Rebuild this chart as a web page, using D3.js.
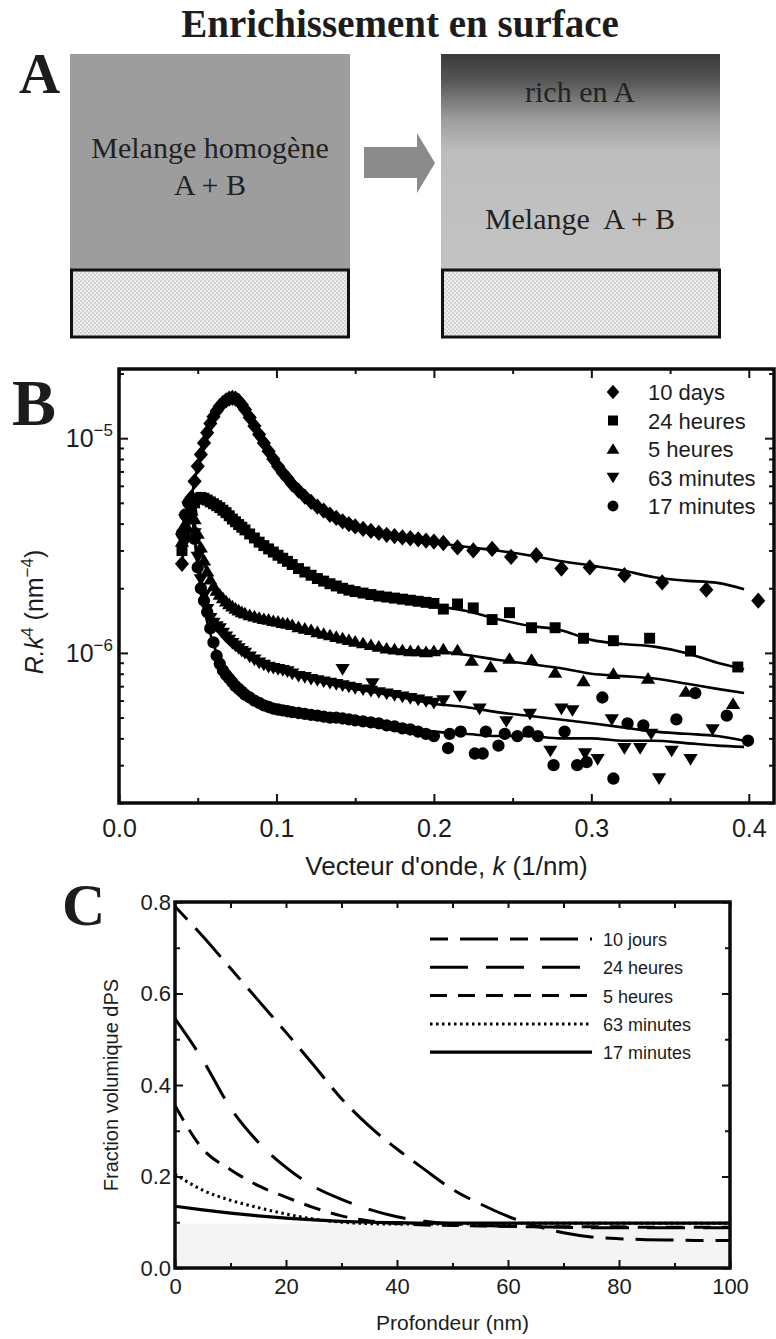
<!DOCTYPE html>
<html>
<head>
<meta charset="utf-8">
<script src="https://cdn.jsdelivr.net/npm/d3@7"></script>
<style>
  body { margin: 0; background: #fff; }
  svg { display: block; }
  text { fill: #1c1c1c; }
</style>
</head>
<body>
<script>
// ---- panel B data (R.k^4 in units of 1e-6 nm^-4) ----
var seriesB = ['10 days', '24 heures', '5 heures', '63 minutes', '17 minutes'];

var kDense = [0.040, 0.042, 0.044, 0.046, 0.048, 0.050, 0.052, 0.054, 0.056, 0.058,
              0.060, 0.062, 0.064, 0.066, 0.068, 0.070, 0.072, 0.074, 0.076, 0.078,
              0.080, 0.083, 0.086, 0.089, 0.092, 0.095, 0.098, 0.101, 0.104, 0.107,
              0.110, 0.114, 0.118, 0.122, 0.126, 0.130, 0.134, 0.138, 0.142, 0.146,
              0.150, 0.155, 0.160, 0.165, 0.170, 0.175, 0.180, 0.185, 0.190, 0.195,
              0.200];

var r10days = [2.6, 3.4, 4.3, 5.3, 6.3, 7.4, 8.4, 9.5, 10.6, 11.7,
               12.6, 13.4, 14.1, 14.6, 15.0, 15.3, 15.4, 15.3, 14.9, 14.3,
               13.6, 12.5, 11.4, 10.4, 9.5, 8.7, 8.0, 7.4, 6.9, 6.5,
               6.1, 5.7, 5.35, 5.05, 4.8, 4.6, 4.4, 4.25, 4.1, 3.98,
               3.88, 3.78, 3.7, 3.62, 3.55, 3.5, 3.45, 3.42, 3.38, 3.33,
               3.3];
var r24h = [3.0, 3.6, 4.2, 4.7, 5.0, 5.2, 5.3, 5.25, 5.15, 5.05,
            4.95, 4.85, 4.75, 4.62, 4.5, 4.35, 4.2, 4.08, 3.96, 3.85,
            3.74, 3.58, 3.43, 3.28, 3.16, 3.05, 2.95, 2.85, 2.76, 2.67,
            2.58, 2.47, 2.38, 2.30, 2.22, 2.16, 2.10, 2.05, 2.0, 1.96,
            1.93, 1.9, 1.87, 1.84, 1.82, 1.8, 1.78, 1.76, 1.74, 1.72,
            1.70];
var r5h = [3.3, 4.0, 4.5, 4.6, 4.2, 3.6, 3.1, 2.7, 2.4, 2.2,
           2.05, 1.95, 1.87, 1.8, 1.74, 1.69, 1.65, 1.61, 1.58, 1.55,
           1.53, 1.5, 1.48, 1.46, 1.44, 1.43, 1.41, 1.40, 1.38, 1.37,
           1.35, 1.32, 1.3, 1.28, 1.25, 1.23, 1.21, 1.19, 1.17, 1.15,
           1.13, 1.11, 1.09, 1.07, 1.05, 1.04, 1.03, 1.02, 1.02, 1.01,
           1.02];
var r63min = [3.4, 4.2, 4.8, 4.6, 3.6, 2.8, 2.2, 1.85, 1.6, 1.45,
              1.38, 1.33, 1.3, 1.24, 1.19, 1.15, 1.11, 1.08, 1.05, 1.02,
              1.0, 0.96, 0.93, 0.9, 0.88, 0.86, 0.85, 0.84, 0.83, 0.82,
              0.8, 0.78, 0.77, 0.755, 0.745, 0.735, 0.725, 0.715, 0.705, 0.695,
              0.685, 0.675, 0.665, 0.655, 0.645, 0.635, 0.625, 0.615, 0.605, 0.595,
              0.585];
var r17min = [3.6, 4.4, 5.0, 4.5, 3.4, 2.5, 2.0, 1.75, 1.55, 1.3,
              1.12, 0.97, 0.89, 0.83, 0.79, 0.76, 0.73, 0.70, 0.68, 0.66,
              0.64, 0.62, 0.6, 0.585, 0.57, 0.56, 0.55, 0.545, 0.54, 0.535,
              0.53, 0.525, 0.52, 0.515, 0.51, 0.505, 0.5, 0.5, 0.495, 0.49,
              0.485, 0.48, 0.475, 0.47, 0.46, 0.455, 0.445, 0.44, 0.43, 0.42,
              0.41];

// sparse points at high k, [k, R]
var s10days = [[0.206, 3.25], [0.215, 3.1], [0.225, 3.0], [0.237, 3.05], [0.249, 2.8], [0.265, 2.85],
               [0.281, 2.47], [0.299, 2.5], [0.321, 2.3], [0.345, 2.13], [0.373, 1.97], [0.406, 1.75]];
var s24h = [[0.206, 1.6], [0.215, 1.69], [0.225, 1.62], [0.237, 1.43], [0.248, 1.54], [0.262, 1.31],
            [0.277, 1.31], [0.295, 1.17], [0.314, 1.14], [0.337, 1.17], [0.363, 1.02], [0.393, 0.86]];
var s5h = [[0.206, 1.04], [0.215, 1.03], [0.224, 0.92], [0.236, 0.86], [0.248, 0.94], [0.262, 0.93],
           [0.277, 0.81], [0.295, 0.74], [0.314, 0.8], [0.336, 0.76], [0.36, 0.66], [0.39, 0.58]];
var s63min = [[0.142, 0.84], [0.161, 0.72], [0.206, 0.6], [0.2165, 0.63], [0.229, 0.55], [0.246, 0.48],
              [0.261, 0.52], [0.274, 0.35], [0.281, 0.55], [0.288, 0.54], [0.296, 0.34], [0.304, 0.32],
              [0.313, 0.49], [0.321, 0.36], [0.331, 0.36], [0.338, 0.42], [0.343, 0.26], [0.351, 0.35],
              [0.363, 0.32], [0.377, 0.44]];
var s17min = [[0.209, 0.36], [0.210, 0.42], [0.217, 0.43], [0.226, 0.34], [0.231, 0.34], [0.233, 0.43],
              [0.241, 0.37], [0.245, 0.42], [0.253, 0.41], [0.260, 0.43], [0.266, 0.41], [0.276, 0.30],
              [0.283, 0.43], [0.291, 0.30], [0.297, 0.31], [0.307, 0.62], [0.314, 0.26], [0.323, 0.47],
              [0.333, 0.46], [0.354, 0.49], [0.366, 0.65], [0.386, 0.51], [0.3995, 0.39]];

// fitted curves
var kFit = [0.040, 0.045, 0.050, 0.055, 0.060, 0.065, 0.070, 0.075, 0.080, 0.090, 0.100, 0.110, 0.120, 0.140,
            0.160, 0.180, 0.200, 0.220, 0.240, 0.260, 0.280, 0.300, 0.320, 0.340, 0.360, 0.380, 0.397];
var f10days = [2.6, 4.8, 7.4, 10.0, 12.6, 14.5, 15.3, 15.2, 13.6, 10.0, 7.6, 6.1, 5.2, 4.2,
               3.72, 3.45, 3.28, 3.12, 3.0, 2.85, 2.68, 2.55, 2.42, 2.25, 2.17, 2.12, 1.98];
var f24h = [3.0, 4.8, 5.2, 5.1, 4.95, 4.7, 4.35, 4.0, 3.74, 3.2, 2.9, 2.56, 2.3, 2.0,
            1.87, 1.78, 1.66, 1.57, 1.44, 1.34, 1.28, 1.15, 1.1, 1.07, 1.0, 0.9, 0.84];
var f5h = [3.3, 4.5, 3.5, 2.5, 2.05, 1.85, 1.7, 1.6, 1.53, 1.45, 1.4, 1.35, 1.28, 1.17,
           1.08, 1.03, 1.02, 0.98, 0.93, 0.89, 0.85, 0.8, 0.78, 0.76, 0.72, 0.68, 0.65];
var f63min = [3.4, 4.6, 2.8, 1.7, 1.35, 1.2, 1.1, 1.03, 0.97, 0.88, 0.83, 0.79, 0.76, 0.70,
              0.66, 0.62, 0.58, 0.56, 0.53, 0.51, 0.49, 0.47, 0.45, 0.43, 0.42, 0.41, 0.39];
var f17min = [3.6, 4.8, 2.5, 1.5, 1.1, 0.88, 0.76, 0.69, 0.64, 0.58, 0.55, 0.53, 0.52, 0.5,
              0.48, 0.45, 0.43, 0.42, 0.41, 0.41, 0.40, 0.40, 0.39, 0.39, 0.38, 0.37, 0.365];

var xTicksB = [0, 0.1, 0.2, 0.3, 0.4];

// ---- panel C data ----
var seriesC = ['10 jours', '24 heures', '5 heures', '63 minutes', '17 minutes'];
var depth = [0, 5, 10, 15, 20, 25, 30, 35, 40, 45, 50, 55, 60, 65, 70, 75, 80, 85, 90, 95, 100];
var c10jours = [0.79, 0.725, 0.655, 0.585, 0.515, 0.443, 0.37, 0.31, 0.26, 0.215, 0.172,
                0.14, 0.113, 0.092, 0.077, 0.068, 0.064, 0.062, 0.061, 0.06, 0.06];
var c24h = [0.545, 0.455, 0.35, 0.275, 0.22, 0.178, 0.15, 0.128, 0.112, 0.102, 0.096,
            0.093, 0.091, 0.09, 0.089, 0.088, 0.088, 0.088, 0.088, 0.088, 0.088];
var c5h = [0.355, 0.26, 0.215, 0.18, 0.155, 0.132, 0.114, 0.103, 0.097, 0.094, 0.093,
           0.092, 0.091, 0.09, 0.09, 0.09, 0.09, 0.089, 0.089, 0.089, 0.089];
var c63min = [0.205, 0.17, 0.148, 0.132, 0.118, 0.107, 0.1, 0.097, 0.096, 0.096, 0.096,
              0.097, 0.097, 0.098, 0.098, 0.098, 0.098, 0.098, 0.098, 0.098, 0.098];
var c17min = [0.135, 0.127, 0.12, 0.114, 0.109, 0.105, 0.102, 0.1, 0.099, 0.098, 0.098,
              0.098, 0.098, 0.098, 0.098, 0.098, 0.098, 0.098, 0.098, 0.098, 0.098];
var bulkLevel = 0.097;

var xTicksC = [0, 20, 40, 60, 80, 100];
var yTicksC = [0.0, 0.2, 0.4, 0.6, 0.8];

var sans = "'Liberation Sans', Arial, sans-serif";
var serif = "'Liberation Serif', 'Times New Roman', serif";

var svg = d3.select("body").append("svg")
    .attr("width", 776)
    .attr("height", 1339);

var defs = svg.append("defs");

// substrate texture
var pat = defs.append("pattern")
    .attr("id", "sub")
    .attr("width", 4).attr("height", 4)
    .attr("patternUnits", "userSpaceOnUse");
pat.append("rect").attr("width", 4).attr("height", 4).attr("fill", "#eeeeee");
pat.append("circle").attr("cx", 1).attr("cy", 1).attr("r", 0.9).attr("fill", "#c4c4c4");
pat.append("circle").attr("cx", 3).attr("cy", 3).attr("r", 0.9).attr("fill", "#c4c4c4");

var grad = defs.append("linearGradient")
    .attr("id", "rich")
    .attr("x1", 0).attr("y1", 0).attr("x2", 0).attr("y2", 1);
[[0, "#3a3a3a"], [0.12, "#555555"], [0.3, "#9c9c9c"], [0.45, "#bdbdbd"], [1, "#c3c3c3"]]
  .forEach(function(s) {
    grad.append("stop").attr("offset", s[0]).attr("stop-color", s[1]);
  });

// ================= PANEL A =================
var gA = svg.append("g");

gA.append("text")
    .attr("x", 400).attr("y", 37)
    .attr("text-anchor", "middle")
    .style("font-family", serif)
    .style("font-weight", "bold")
    .style("font-size", "39px")
    .text("Enrichissement en surface");

gA.append("text")
    .attr("x", 19).attr("y", 93)
    .style("font-family", serif)
    .style("font-weight", "bold")
    .style("font-size", "57px")
    .text("A");

gA.append("rect").attr("x", 70).attr("y", 54).attr("width", 280).attr("height", 216).attr("fill", "#9d9d9d");
gA.append("rect").attr("x", 441).attr("y", 54).attr("width", 279).attr("height", 216).attr("fill", "url(#rich)");

[70, 441].forEach(function(x0) {
  gA.append("rect")
      .attr("x", x0 + 1.5).attr("y", 270)
      .attr("width", 277).attr("height", 67)
      .attr("fill", "url(#sub)")
      .attr("stroke", "#111")
      .attr("stroke-width", 3);
});

gA.append("polygon")
    .attr("points", "364,147 417,147 417,133 435,163 417,193 417,178 364,178")
    .attr("fill", "#8b8b8b");

var boxText = [
  {x: 210, y: 158, t: "Melange homogène"},
  {x: 210, y: 195, t: "A + B"},
  {x: 580, y: 102, t: "rich en A"},
  {x: 580, y: 229, t: "Melange  A + B"}
];
gA.selectAll(".bt")
    .data(boxText)
  .enter().append("text")
    .attr("class", "bt")
    .attr("x", function(d) { return d.x; })
    .attr("y", function(d) { return d.y; })
    .attr("text-anchor", "middle")
    .style("font-family", serif)
    .style("font-size", "30px")
    .style("white-space", "pre")
    .style("fill", "#222")
    .text(function(d) { return d.t; });

// ================= PANEL B =================
var B = {left: 119, right: 774, top: 369, bottom: 803};
var xB = d3.scaleLinear().domain([0, 0.416]).range([B.left, B.right]);
var yB = d3.scaleLog().domain([2e-7, 2.1e-5]).range([B.bottom, B.top]);

var gB = svg.append("g");

svg.append("text")
    .attr("x", 12).attr("y", 425)
    .style("font-family", serif)
    .style("font-weight", "bold")
    .style("font-size", "66px")
    .text("B");

defs.append("clipPath").attr("id", "clipB")
  .append("rect")
    .attr("x", B.left).attr("y", B.top)
    .attr("width", B.right - B.left).attr("height", B.bottom - B.top);

// symbol shapes
var symDiamond = {draw: function(c, s) { var r = Math.sqrt(s);
  c.moveTo(0, -r * 1.15); c.lineTo(r, 0); c.lineTo(0, r * 1.15); c.lineTo(-r, 0); c.closePath(); }};
var symSquare = {draw: function(c, s) { var r = Math.sqrt(s); c.rect(-r, -r, 2 * r, 2 * r); }};
var symUp = {draw: function(c, s) { var r = Math.sqrt(s);
  c.moveTo(0, -r); c.lineTo(r * 1.1, r * 0.8); c.lineTo(-r * 1.1, r * 0.8); c.closePath(); }};
var symDown = {draw: function(c, s) { var r = Math.sqrt(s);
  c.moveTo(0, r); c.lineTo(r * 1.1, -r * 0.8); c.lineTo(-r * 1.1, -r * 0.8); c.closePath(); }};
var symCircle = {draw: function(c, s) { var r = Math.sqrt(s);
  c.moveTo(r, 0); c.arc(0, 0, r, 0, 2 * Math.PI); }};

var shapes = [symDiamond, symSquare, symUp, symDown, symCircle];
var sizes = [50, 30, 42, 42, 38];
var legSizes = [40, 25, 34, 34, 30];
var dense = [r10days, r24h, r5h, r63min, r17min];
var sparse = [s10days, s24h, s5h, s63min, s17min];
var fits = [f10days, f24h, f5h, f63min, f17min];

var plotB = gB.append("g").attr("clip-path", "url(#clipB)");

var fitLine = d3.line()
    .x(function(d) { return xB(d.k); })
    .y(function(d) { return yB(d.r * 1e-6); })
    .curve(d3.curveMonotoneX);

fits.forEach(function(f, i) {
  var pts = kFit.map(function(k, j) { return {k: k, r: f[j]}; });
  plotB.append("path")
      .datum(pts)
      .attr("d", fitLine)
      .attr("fill", "none")
      .attr("stroke", "#000")
      .attr("stroke-width", 2.6);
});

seriesB.forEach(function(name, i) {
  var pts = kDense.map(function(k, j) { return {k: k, r: dense[i][j]}; })
    .concat(sparse[i].map(function(p) { return {k: p[0], r: p[1]}; }));
  var sym = d3.symbol().type(shapes[i]).size(sizes[i]);
  plotB.selectAll(".m" + i)
      .data(pts)
    .enter().append("path")
      .attr("class", "m" + i)
      .attr("d", sym)
      .attr("transform", function(d) { return "translate(" + xB(d.k) + "," + yB(d.r * 1e-6) + ")"; })
      .attr("fill", "#000");
});

// axes B
var xMinorB = d3.range(0.05, 0.42, 0.1);
var yMajorB = [1e-6, 1e-5];
var yMinorB = [2e-7, 3e-7, 4e-7, 5e-7, 6e-7, 7e-7, 8e-7, 9e-7,
               2e-6, 3e-6, 4e-6, 5e-6, 6e-6, 7e-6, 8e-6, 9e-6, 2e-5];

function styleAxis(g) {
  g.select(".domain").remove();
  g.selectAll(".tick line").attr("stroke", "#111").attr("stroke-width", 2);
}

gB.append("g")
    .attr("transform", "translate(0," + B.bottom + ")")
    .call(d3.axisBottom(xB).tickValues(xTicksB).tickSize(-9).tickPadding(16)
      .tickFormat(d3.format(".1f")))
    .call(styleAxis)
    .selectAll("text")
      .style("font-family", sans).style("font-size", "25px").style("fill", "#1c1c1c");
gB.append("g")
    .attr("transform", "translate(0," + B.bottom + ")")
    .call(d3.axisBottom(xB).tickValues(xMinorB).tickSize(-5).tickFormat(""))
    .call(styleAxis);
gB.append("g")
    .attr("transform", "translate(0," + B.top + ")")
    .call(d3.axisTop(xB).tickValues(xTicksB).tickSize(-9).tickFormat(""))
    .call(styleAxis);
gB.append("g")
    .attr("transform", "translate(0," + B.top + ")")
    .call(d3.axisTop(xB).tickValues(xMinorB).tickSize(-5).tickFormat(""))
    .call(styleAxis);

[[B.left, d3.axisLeft], [B.right, d3.axisRight]].forEach(function(a) {
  gB.append("g")
      .attr("transform", "translate(" + a[0] + ",0)")
      .call(a[1](yB).tickValues(yMajorB).tickSize(-9).tickFormat(""))
      .call(styleAxis);
  gB.append("g")
      .attr("transform", "translate(" + a[0] + ",0)")
      .call(a[1](yB).tickValues(yMinorB).tickSize(-5).tickFormat(""))
      .call(styleAxis);
});

var yLab = gB.selectAll(".ylab")
    .data(yMajorB)
  .enter().append("text")
    .attr("class", "ylab")
    .attr("x", 113)
    .attr("y", function(d) { return yB(d) + 9; })
    .attr("text-anchor", "end")
    .style("font-family", sans)
    .style("font-size", "25px");
yLab.append("tspan").text("10");
yLab.append("tspan")
    .attr("dy", -11)
    .style("font-size", "17px")
    .text(function(d) { return "\u2212" + Math.round(-Math.log10(d)); });

gB.append("rect")
    .attr("x", B.left).attr("y", B.top)
    .attr("width", B.right - B.left).attr("height", B.bottom - B.top)
    .attr("fill", "none")
    .attr("stroke", "#0a0a0a")
    .attr("stroke-width", 3.5);

var xt = gB.append("text")
    .attr("x", (B.left + B.right) / 2).attr("y", 875)
    .attr("text-anchor", "middle")
    .style("font-family", sans)
    .style("font-size", "26px");
xt.append("tspan").text("Vecteur d'onde, ");
xt.append("tspan").style("font-style", "italic").text("k");
xt.append("tspan").text(" (1/nm)");

var yt = gB.append("text")
    .attr("transform", "translate(43,612) rotate(-90)")
    .attr("text-anchor", "middle")
    .style("font-family", sans)
    .style("font-size", "25px");
yt.append("tspan").style("font-style", "italic").text("R.k");
yt.append("tspan").attr("dy", -10).style("font-size", "17px").text("4");
yt.append("tspan").attr("dy", 10).text(" (nm");
yt.append("tspan").attr("dy", -10).style("font-size", "17px").text("\u22124");
yt.append("tspan").attr("dy", 10).text(")");

// legend B
var legB = gB.selectAll(".legB")
    .data(seriesB)
  .enter().append("g")
    .attr("class", "legB")
    .attr("transform", function(d, i) { return "translate(613," + (392 + i * 28.5) + ")"; });
legB.append("path")
    .attr("d", function(d, i) { return d3.symbol().type(shapes[i]).size(legSizes[i])(); })
    .attr("fill", "#000");
legB.append("text")
    .attr("x", 35).attr("y", 8)
    .style("font-family", sans)
    .style("font-size", "22px")
    .text(function(d) { return d; });

// ================= PANEL C =================
var C = {left: 175, right: 730, top: 902, bottom: 1268};
var xC = d3.scaleLinear().domain([0, 100]).range([C.left, C.right]);
var yC = d3.scaleLinear().domain([0, 0.8]).range([C.bottom, C.top]);

var gC = svg.append("g");

svg.append("text")
    .attr("x", 62).attr("y", 925)
    .style("font-family", serif)
    .style("font-weight", "bold")
    .style("font-size", "60px")
    .text("C");

gC.append("rect")
    .attr("x", xC(0)).attr("y", yC(bulkLevel))
    .attr("width", xC(100) - xC(0)).attr("height", yC(0) - yC(bulkLevel))
    .attr("fill", "#f4f4f4");

var dashes = ["18,12,38,12", "38,18", "17,11", "2.5,3.5", null];
var widths = [3, 3, 3, 3, 3.2];
var profiles = [c10jours, c24h, c5h, c63min, c17min];

var profLine = d3.line()
    .x(function(d) { return xC(d.x); })
    .y(function(d) { return yC(d.v); })
    .curve(d3.curveMonotoneX);

profiles.slice().reverse().forEach(function(p, ri) {
  var i = profiles.length - 1 - ri;
  gC.append("path")
      .datum(depth.map(function(x, j) { return {x: x, v: p[j]}; }))
      .attr("d", profLine)
      .attr("fill", "none")
      .attr("stroke", "#000")
      .attr("stroke-width", widths[i])
      .attr("stroke-dasharray", dashes[i]);
});

var xMinorC = [10, 30, 50, 70, 90];
var yMinorC = [0.1, 0.3, 0.5, 0.7];

gC.append("g")
    .attr("transform", "translate(0," + C.bottom + ")")
    .call(d3.axisBottom(xC).tickValues(xTicksC).tickSize(-8).tickPadding(10))
    .call(styleAxis)
    .selectAll("text")
      .style("font-family", sans).style("font-size", "22px").style("fill", "#1c1c1c");
gC.append("g")
    .attr("transform", "translate(0," + C.bottom + ")")
    .call(d3.axisBottom(xC).tickValues(xMinorC).tickSize(-5).tickFormat(""))
    .call(styleAxis);
gC.append("g")
    .attr("transform", "translate(0," + C.top + ")")
    .call(d3.axisTop(xC).tickValues(xTicksC.concat(xMinorC)).tickSize(-6).tickFormat(""))
    .call(styleAxis);

gC.append("g")
    .attr("transform", "translate(" + C.left + ",0)")
    .call(d3.axisLeft(yC).tickValues(yTicksC).tickSize(-8).tickPadding(4).tickFormat(d3.format(".1f")))
    .call(styleAxis)
    .selectAll("text")
      .style("font-family", sans).style("font-size", "22px").style("fill", "#1c1c1c");
gC.append("g")
    .attr("transform", "translate(" + C.left + ",0)")
    .call(d3.axisLeft(yC).tickValues(yMinorC).tickSize(-5).tickFormat(""))
    .call(styleAxis);
gC.append("g")
    .attr("transform", "translate(" + C.right + ",0)")
    .call(d3.axisRight(yC).tickValues(yTicksC).tickSize(-8).tickFormat(""))
    .call(styleAxis);
gC.append("g")
    .attr("transform", "translate(" + C.right + ",0)")
    .call(d3.axisRight(yC).tickValues(yMinorC).tickSize(-5).tickFormat(""))
    .call(styleAxis);

gC.append("rect")
    .attr("x", C.left).attr("y", C.top)
    .attr("width", C.right - C.left).attr("height", C.bottom - C.top)
    .attr("fill", "none")
    .attr("stroke", "#0a0a0a")
    .attr("stroke-width", 3.5);

gC.append("text")
    .attr("x", (C.left + C.right) / 2).attr("y", 1330)
    .attr("text-anchor", "middle")
    .style("font-family", sans)
    .style("font-size", "21px")
    .text("Profondeur (nm)");

gC.append("text")
    .attr("transform", "translate(118," + ((C.top + C.bottom) / 2) + ") rotate(-90)")
    .attr("text-anchor", "middle")
    .style("font-family", sans)
    .style("font-size", "20px")
    .text("Fraction volumique dPS");

// legend C
var legC = gC.selectAll(".legC")
    .data(seriesC)
  .enter().append("g")
    .attr("class", "legC")
    .attr("transform", function(d, i) { return "translate(430," + (939 + i * 28.3) + ")"; });
legC.append("line")
    .attr("x1", 0).attr("x2", 162)
    .attr("stroke", "#000")
    .attr("stroke-width", function(d, i) { return widths[i]; })
    .attr("stroke-dasharray", function(d, i) { return dashes[i]; });
legC.append("text")
    .attr("x", 173).attr("y", 7)
    .style("font-family", sans)
    .style("font-size", "18px")
    .text(function(d) { return d; });
</script>
</body>
</html>
